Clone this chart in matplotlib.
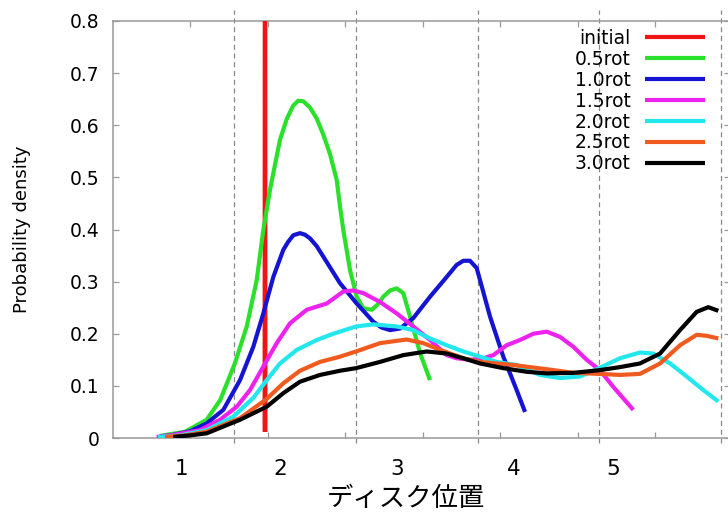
import numpy as np
import matplotlib
matplotlib.use("Agg")
import matplotlib.pyplot as plt

# ---- data -------------------------------------------------------------
series_names = ["initial", "0.5rot", "1.0rot", "1.5rot", "2.0rot", "2.5rot", "3.0rot"]
series_colors = ["#f01414", "#2be02b", "#1414d2", "#ee22ee", "#22e8ee", "#f05a1e", "#000000"]

x_initial = [1.963, 1.968, 1.973]
y_initial = [0.012, 2.0, 0.012]

x_05 = [0.613, 0.935, 1.215, 1.391, 1.581, 1.732, 1.861, 1.946, 2.032, 2.161, 2.248, 2.333,
        2.397, 2.462, 2.548, 2.635, 2.720, 2.806, 2.893, 2.935, 2.978, 3.065, 3.151, 3.236,
        3.345, 3.420, 3.494, 3.580, 3.667, 3.752, 3.839, 3.968, 4.097]
y_05 = [0.004, 0.012, 0.035, 0.073, 0.144, 0.214, 0.303, 0.399, 0.476, 0.572, 0.612, 0.638,
        0.647, 0.646, 0.634, 0.613, 0.582, 0.545, 0.495, 0.445, 0.399, 0.322, 0.271, 0.249,
        0.246, 0.256, 0.271, 0.283, 0.287, 0.278, 0.233, 0.163, 0.111]

x_10 = [0.613, 0.785, 1.0, 1.215, 1.430, 1.645, 1.817, 1.946, 2.075, 2.204, 2.265, 2.333,
        2.419, 2.484, 2.548, 2.635, 2.720, 2.935, 3.151, 3.365, 3.470, 3.581, 3.710, 3.881,
        4.097, 4.312, 4.440, 4.526, 4.613, 4.699, 4.742, 4.871, 5.043, 5.215, 5.323]
y_10 = [0.003, 0.006, 0.013, 0.028, 0.054, 0.111, 0.175, 0.239, 0.309, 0.361, 0.376, 0.389,
        0.393, 0.390, 0.383, 0.368, 0.348, 0.297, 0.258, 0.223, 0.212, 0.207, 0.210, 0.230,
        0.271, 0.309, 0.332, 0.340, 0.340, 0.326, 0.303, 0.233, 0.156, 0.092, 0.050]

x_15 = [0.570, 0.785, 1.129, 1.387, 1.603, 1.774, 1.946, 2.119, 2.290, 2.506, 2.764, 2.978,
        3.107, 3.236, 3.452, 3.667, 3.881, 4.097, 4.312, 4.441, 4.613, 4.785, 4.914, 5.086,
        5.258, 5.430, 5.603, 5.774, 5.946, 6.119, 6.290, 6.462, 6.720]
y_15 = [0.002, 0.006, 0.015, 0.035, 0.060, 0.092, 0.137, 0.182, 0.220, 0.246, 0.258, 0.281,
        0.283, 0.278, 0.261, 0.239, 0.214, 0.188, 0.159, 0.153, 0.150, 0.153, 0.159, 0.178,
        0.188, 0.200, 0.204, 0.194, 0.175, 0.150, 0.130, 0.098, 0.054]

x_20 = [0.587, 0.871, 1.215, 1.559, 1.817, 1.990, 2.161, 2.377, 2.635, 2.849, 3.142, 3.365,
        3.667, 3.881, 4.097, 4.312, 4.526, 4.742, 4.957, 5.215, 5.516, 5.774, 6.032, 6.277,
        6.548, 6.806, 6.978, 7.194, 7.409, 7.623, 7.817]
y_20 = [0.002, 0.005, 0.015, 0.041, 0.077, 0.111, 0.143, 0.169, 0.188, 0.200, 0.214, 0.218,
        0.214, 0.207, 0.191, 0.178, 0.166, 0.156, 0.146, 0.140, 0.121, 0.115, 0.118, 0.134,
        0.153, 0.164, 0.162, 0.143, 0.118, 0.092, 0.070]

x_25 = [0.677, 0.935, 1.215, 1.645, 1.990, 2.204, 2.419, 2.677, 2.935, 3.142, 3.452, 3.796,
        4.010, 4.226, 4.526, 4.742, 5.172, 5.603, 5.946, 6.277, 6.548, 6.806, 7.065, 7.323,
        7.538, 7.667, 7.817]
y_25 = [0.002, 0.005, 0.012, 0.038, 0.075, 0.105, 0.129, 0.146, 0.156, 0.166, 0.182, 0.189,
        0.182, 0.169, 0.153, 0.146, 0.140, 0.132, 0.125, 0.123, 0.121, 0.123, 0.143, 0.178,
        0.198, 0.196, 0.191]

x_30 = [0.785, 1.0, 1.215, 1.645, 1.990, 2.204, 2.419, 2.677, 2.935, 3.142, 3.452, 3.752,
        4.054, 4.312, 4.526, 4.742, 5.043, 5.345, 5.603, 5.946, 6.277, 6.548, 6.806, 7.065,
        7.323, 7.538, 7.688, 7.817]
y_30 = [0.002, 0.005, 0.009, 0.035, 0.060, 0.086, 0.108, 0.121, 0.129, 0.134, 0.146, 0.159,
        0.166, 0.162, 0.153, 0.143, 0.134, 0.127, 0.124, 0.125, 0.130, 0.136, 0.143, 0.162,
        0.207, 0.242, 0.251, 0.244]

disk_boundaries = [np.pi / 2, np.pi, 3 * np.pi / 2, 2 * np.pi, 5 * np.pi / 2]
disk_label_pos = [0.893, 2.170, 3.667, 5.172, 6.462]
disk_labels = ["1", "2", "3", "4", "5"]

y_ticks = [0, 0.1, 0.2, 0.3, 0.4, 0.5, 0.6, 0.7, 0.8]
y_tick_labels = ["0", "0.1", "0.2", "0.3", "0.4", "0.5", "0.6", "0.7", "0.8"]

# ---- figure -----------------------------------------------------------
plt.rcParams["font.family"] = ["DejaVu Sans"]
W, H = 728, 513
fig = plt.figure(figsize=(W / 100, H / 100), dpi=100)
left_px, right_px, top_px, bottom_px = 112.5, 730, 21, 438
ax = fig.add_axes([left_px / W, 1 - bottom_px / H,
                   (right_px - left_px) / W, (bottom_px - top_px) / H])

ax.set_xlim(0, (right_px - left_px) / 77.5)
ax.set_ylim(0, 0.8)

grey = "#999999"
for b in disk_boundaries:
    ax.axvline(b, ymin=-0.012, ymax=1.027, color="#888888", lw=0.9,
               dashes=(4, 3), clip_on=False, zorder=1)

all_x = [x_initial, x_05, x_10, x_15, x_20, x_25, x_30]
all_y = [y_initial, y_05, y_10, y_15, y_20, y_25, y_30]
for xs, ys, name, col in zip(all_x, all_y, series_names, series_colors):
    ax.plot(xs, ys, color=col, lw=3.0, label=name, solid_capstyle="butt",
            solid_joinstyle="round", zorder=3)

for side in ["left", "top", "bottom", "right"]:
    ax.spines[side].set_color(grey)
    ax.spines[side].set_linewidth(1.1)

ax.set_xticks(range(1, 8))
ax.set_xticklabels([])
ax.tick_params(axis="x", which="major", direction="in", length=4, width=0.9,
               color=grey, top=True, bottom=True)
ax.set_xticks(disk_label_pos, minor=True)
ax.set_xticklabels(disk_labels, minor=True, fontsize=15.5)
ax.tick_params(axis="x", which="minor", length=0, pad=15)

ax.set_yticks(y_ticks)
ax.set_yticklabels(y_tick_labels, fontsize=13.5)
ax.tick_params(axis="y", direction="in", length=4, width=0.9, color=grey,
               left=True, right=True, pad=9.5)

ax.set_xlabel("ディスク位置", fontsize=19, family=["Noto Sans CJK JP", "DejaVu Sans"])
ax.xaxis.label.set_va("center")
ax.xaxis.set_label_coords((406 - left_px) / (right_px - left_px), (bottom_px - 499) / (bottom_px - top_px))

ax.set_ylabel("Probability density", fontsize=13)
ax.yaxis.label.set_va("center")
ax.yaxis.set_label_coords((22 - left_px) / (right_px - left_px), (bottom_px - 229) / (bottom_px - top_px))

leg = ax.legend(loc="upper right", bbox_to_anchor=(705 / W, 1 - 29 / H),
                bbox_transform=fig.transFigure, frameon=False, markerfirst=False,
                fontsize=13.5, handlelength=3.2, handletextpad=0.75,
                labelspacing=0.1, borderpad=0, borderaxespad=0)
for line in leg.get_lines():
    line.set_linewidth(3.0)

fig.savefig("out.png", dpi=100)
